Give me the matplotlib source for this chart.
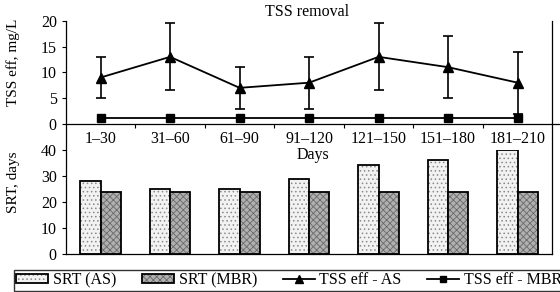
import matplotlib
matplotlib.use("Agg")
import numpy as np
import matplotlib.pyplot as plt
from matplotlib.lines import Line2D
from matplotlib.patches import Patch
from matplotlib.legend_handler import HandlerTuple

periods = ["1–30", "31–60", "61–90", "91–120", "121–150", "151–180", "181–210"]
tss_as = [9, 13, 7, 8, 13, 11, 8]
tss_as_err = [4, 6.5, 4, 5, 6.5, 6, 6]
tss_mbr = [1.1, 1.1, 1.1, 1.1, 1.1, 1.1, 1.1]
srt_as = [28.2, 25, 25, 28.8, 34.2, 36.1, 40]
srt_mbr = [24, 24, 24, 24, 24, 24, 24]

plt.rcParams["font.family"] = ["Liberation Serif", "DejaVu Serif"]
plt.rcParams["font.size"] = 11
plt.rcParams["hatch.linewidth"] = 0.6

W_PX, H_PX = 560, 292
fig = plt.figure(figsize=(5.6, 2.92), dpi=100, facecolor="white")

left = 65.8 / W_PX
width = (552.4 - 65.8) / W_PX
ax_t = fig.add_axes([left, 1 - 124 / H_PX, width, 103.3 / H_PX])
ax_b = fig.add_axes([left, 1 - 254 / H_PX, width, 104 / H_PX])

x = np.arange(len(periods))

# top panel: TSS effluent
ax_t.errorbar(x, tss_as, yerr=tss_as_err, color="black", lw=1.3, marker="^",
              ms=7, capsize=3.5, elinewidth=1.2, capthick=1.2)
ax_t.plot(x, tss_mbr, color="black", lw=1.3, marker="s", ms=5.5)
ax_t.set_xlim(-0.5, 6.5)
ax_t.set_ylim(0, 20)
ax_t.set_yticks([0, 5, 10, 15, 20])
ax_t.set_xticks(x)
ax_t.set_xticklabels(periods)
ax_t.set_xticks(x[:-1] + 0.5, minor=True)
ax_t.tick_params(axis="x", which="major", length=0, pad=5, labelsize=11.5)
ax_t.tick_params(axis="x", which="minor", length=3, direction="out", width=0.8)
ax_t.tick_params(axis="y", length=3, width=0.8, labelsize=11.5)

# bottom panel: SRT bars
bw = 0.29
for vals, xs, fc, hc, hatch in [(srt_as, x - bw / 2, "#f2f2f2", "#8a8a8a", "...."),
                                (srt_mbr, x + bw / 2, "#b0b0b0", "#6a6a6a", "xxxxx")]:
    plt.rcParams["hatch.color"] = hc
    ax_b.bar(xs, vals, width=bw, color=fc, hatch=hatch, linewidth=0)
    ax_b.bar(xs, vals, width=bw, fill=False, edgecolor="black", linewidth=1.3)
ax_b.set_xlim(-0.5, 6.5)
ax_b.set_ylim(0, 40)
ax_b.set_yticks([0, 10, 20, 30, 40])
ax_b.set_xticks([])
ax_b.tick_params(axis="y", length=3, width=0.8, labelsize=11.5)

for ax in (ax_t, ax_b):
    for s in ("top", "left", "right"):
        ax.spines[s].set_visible(False)
    ax.spines["bottom"].set_linewidth(0.9)

# continuous frame lines on both sides
y0, y1 = 1 - 254 / H_PX, 1 - 20.7 / H_PX
for xx in (left, left + width):
    fig.add_artist(Line2D([xx, xx], [y0, y1], color="black", lw=0.9))
fig.add_artist(Line2D([left + width, 1.0], [1 - 124 / H_PX] * 2, color="black", lw=0.9))

fig.text(307 / W_PX, 1 - 12 / H_PX, "TSS removal", ha="center", va="center", fontsize=11.5)
fig.text(313 / W_PX, 1 - 155 / H_PX, "Days", ha="center", va="center", fontsize=11.5)
fig.text(13 / W_PX, 1 - 62 / H_PX, "TSS eff, mg/L", rotation=90, ha="center", va="center", fontsize=11)
fig.text(13 / W_PX, 1 - 182 / H_PX, "SRT, days", rotation=90, ha="center", va="center", fontsize=11)

# legend
plt.rcParams["hatch.color"] = "#8a8a8a"
h_as_fill = Patch(facecolor="#f2f2f2", hatch="....", linewidth=0)
plt.rcParams["hatch.color"] = "#6a6a6a"
h_mbr_fill = Patch(facecolor="#b0b0b0", hatch="xxxxx", linewidth=0)
h_edge = Patch(fill=False, edgecolor="black", linewidth=1.3)
h_tss_as = Line2D([], [], color="black", lw=1.3, marker="^", ms=6)
h_tss_mbr = Line2D([], [], color="black", lw=1.3, marker="s", ms=5)
leg = fig.legend([(h_as_fill, h_edge), (h_mbr_fill, h_edge), h_tss_as, h_tss_mbr],
                 ["SRT (AS)", "SRT (MBR)", "TSS eff - AS", "TSS eff - MBR"],
                 handler_map={tuple: HandlerTuple(ndivide=1)},
                 ncol=4, loc="lower left", bbox_to_anchor=(14 / W_PX, 1.5 / H_PX),
                 fontsize=11.5, frameon=True, fancybox=False, borderaxespad=0,
                 handlelength=2.0, handleheight=0.55, handletextpad=0.3,
                 columnspacing=1.6, borderpad=0.15)
leg.get_frame().set_edgecolor("black")
leg.get_frame().set_linewidth(1.0)

fig.savefig("out.png", dpi=100)
